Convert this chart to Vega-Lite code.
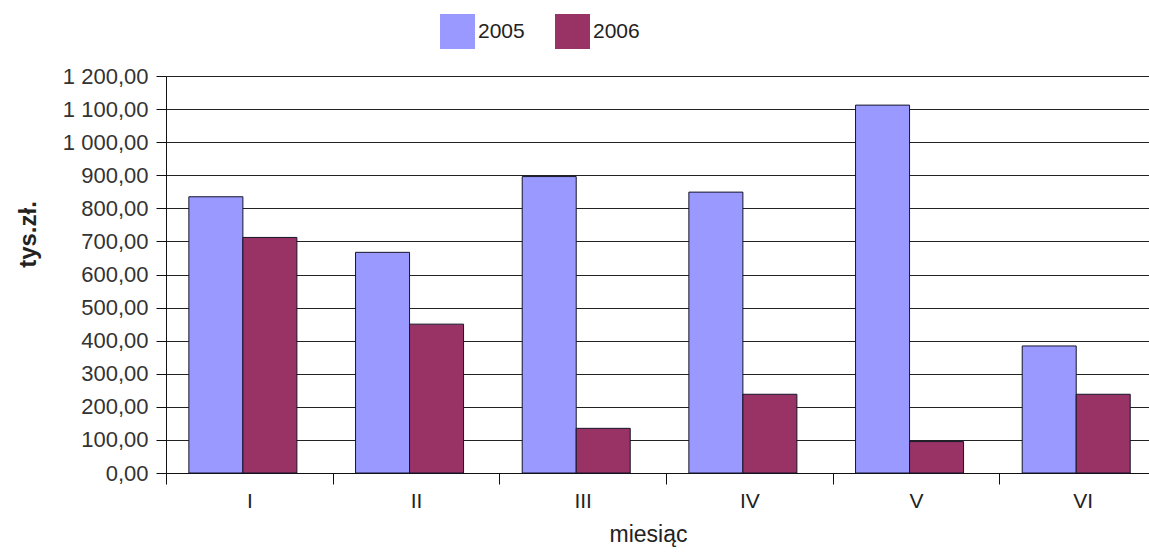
{
  "$schema": "https://vega.github.io/schema/vega-lite/v6.json",
  "autosize": {"type": "none"},
  "width": 983,
  "height": 397,
  "padding": {"left": 166, "top": 76, "right": 0, "bottom": 84},
  "background": "white",
  "config": {
    "locale": {"number": {"decimal": ",", "thousands": " ", "grouping": [3], "currency": ["", ""]}},
    "font": "Liberation Sans",
    "view": {"stroke": null},
    "axis": {"labelFont": "Liberation Sans", "titleFont": "Liberation Sans"}
  },
  "data": {
    "values": [
      {"miesiac": "I", "rok": "2005", "wartosc": 835},
      {"miesiac": "I", "rok": "2006", "wartosc": 712},
      {"miesiac": "II", "rok": "2005", "wartosc": 667},
      {"miesiac": "II", "rok": "2006", "wartosc": 450},
      {"miesiac": "III", "rok": "2005", "wartosc": 896},
      {"miesiac": "III", "rok": "2006", "wartosc": 135},
      {"miesiac": "IV", "rok": "2005", "wartosc": 849},
      {"miesiac": "IV", "rok": "2006", "wartosc": 238},
      {"miesiac": "V", "rok": "2005", "wartosc": 1112},
      {"miesiac": "V", "rok": "2006", "wartosc": 95},
      {"miesiac": "VI", "rok": "2005", "wartosc": 384},
      {"miesiac": "VI", "rok": "2006", "wartosc": 238}
    ]
  },
  "mark": {"type": "bar", "stroke": "#15152a", "strokeWidth": 1},
  "encoding": {
    "x": {
      "field": "miesiac",
      "type": "nominal",
      "sort": ["I", "II", "III", "IV", "V", "VI"],
      "scale": {"range": [0, 1000], "paddingInner": 0, "paddingOuter": 0},
      "axis": {
        "title": "miesiąc",
        "labelAngle": 0,
        "labelFontSize": 21,
        "labelColor": "#222",
        "labelPadding": 6,
        "titleFontSize": 23,
        "titleFontWeight": "normal",
        "titleColor": "#222",
        "titlePadding": 12,
        "titleX": 482,
        "tickBand": "extent",
        "tickSize": 11,
        "tickColor": "#111",
        "domainColor": "#111",
        "grid": false
      }
    },
    "xOffset": {
      "field": "rok",
      "type": "nominal",
      "sort": ["2005", "2006"],
      "scale": {"paddingInner": 0, "paddingOuter": 0.543, "align": 0.39}
    },
    "y": {
      "field": "wartosc",
      "type": "quantitative",
      "scale": {"domain": [0, 1200], "nice": false},
      "axis": {
        "title": "tys.zł.",
        "values": [0, 100, 200, 300, 400, 500, 600, 700, 800, 900, 1000, 1100, 1200],
        "format": ",.2f",
        "labelFontSize": 22,
        "labelColor": "#333",
        "labelPadding": 8,
        "tickSize": 10,
        "tickColor": "#111",
        "domainColor": "#111",
        "grid": true,
        "gridColor": "#222",
        "gridWidth": 1,
        "gridOpacity": 1,
        "titleFontSize": 24,
        "titleFontWeight": "bold",
        "titleColor": "#222",
        "titlePadding": 22,
        "titleY": 158
      }
    },
    "color": {
      "field": "rok",
      "type": "nominal",
      "scale": {"domain": ["2005", "2006"], "range": ["#9999FF", "#993366"]},
      "legend": {
        "title": null,
        "orient": "none",
        "legendX": 274,
        "legendY": -62,
        "direction": "horizontal",
        "symbolType": "square",
        "symbolSize": 1225,
        "symbolStrokeWidth": 0,
        "symbolOpacity": 1,
        "labelFontSize": 21,
        "labelColor": "#222",
        "labelOffset": 3,
        "columnPadding": 30
      }
    }
  }
}
